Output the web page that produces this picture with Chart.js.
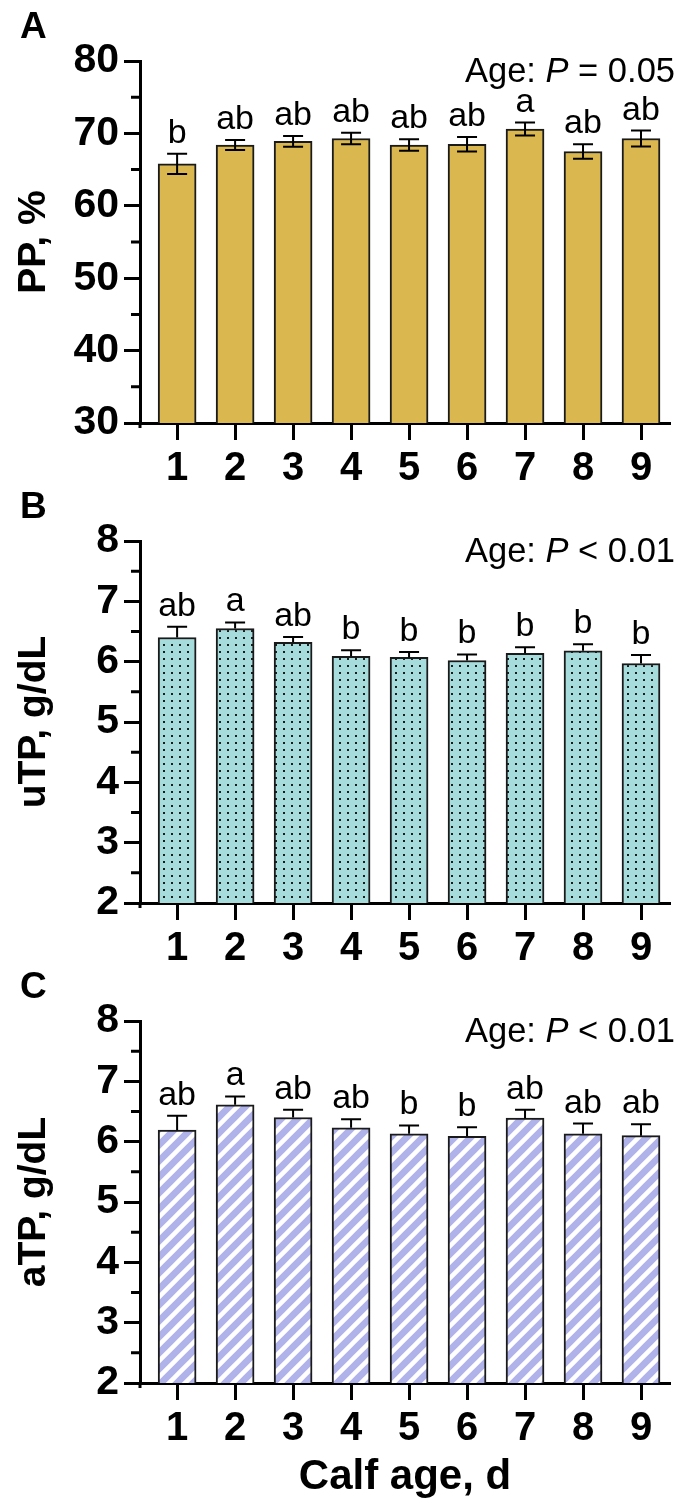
<!DOCTYPE html>
<html>
<head>
<meta charset="utf-8">
<script src="https://cdn.jsdelivr.net/npm/chart.js@4.4.0/dist/chart.umd.min.js"></script>
<style>
  body { margin: 0; background: #fff; }
  .panel { position: absolute; left: 0; }
</style>
</head>
<body>
<canvas id="chartA" class="panel" style="top:0" width="691" height="480"></canvas>
<canvas id="chartB" class="panel" style="top:480px" width="691" height="480"></canvas>
<canvas id="chartC" class="panel" style="top:960px" width="691" height="551"></canvas>
<script>
const FONT = '"Liberation Sans", Arial, sans-serif';

// calf age, d
const categories = [1, 2, 3, 4, 5, 6, 7, 8, 9];

// A: PP, %
const ppMean = [65.8, 68.4, 68.9, 69.3, 68.4, 68.5, 70.6, 67.5, 69.3];
const ppSem = [1.4, 0.7, 0.75, 0.8, 0.8, 1.0, 0.9, 1.0, 1.1];
const ppLetters = ['b', 'ab', 'ab', 'ab', 'ab', 'ab', 'a', 'ab', 'ab'];
const ppTicks = [30, 40, 50, 60, 70, 80];

// B: uTP, g/dL
const utpMean = [6.40, 6.55, 6.32, 6.09, 6.07, 6.02, 6.14, 6.18, 5.97];
const utpSem = [0.18, 0.10, 0.09, 0.10, 0.09, 0.10, 0.10, 0.11, 0.14];
const utpLetters = ['ab', 'a', 'ab', 'b', 'b', 'b', 'b', 'b', 'b'];

// C: aTP, g/dL
const atpMean = [6.19, 6.61, 6.40, 6.23, 6.13, 6.09, 6.39, 6.13, 6.10];
const atpSem = [0.24, 0.14, 0.13, 0.14, 0.14, 0.15, 0.14, 0.17, 0.19];
const atpLetters = ['ab', 'a', 'ab', 'ab', 'b', 'b', 'ab', 'ab', 'ab'];
const tpTicks = [2, 3, 4, 5, 6, 7, 8];

function dotPattern() {
  const c = document.createElement('canvas');
  c.width = 8; c.height = 7;
  const g = c.getContext('2d');
  g.fillStyle = '#a6dcdc';
  g.fillRect(0, 0, 8, 7);
  g.fillStyle = '#1c1c1c';
  g.fillRect(3, 3, 2, 2);
  return g.createPattern(c, 'repeat');
}

function stripePattern() {
  const s = 16;
  const c = document.createElement('canvas');
  c.width = s; c.height = s;
  const g = c.getContext('2d');
  g.fillStyle = '#b0b2ea';
  g.fillRect(0, 0, s, s);
  g.strokeStyle = '#fff';
  g.lineWidth = 4.5;
  g.beginPath();
  g.moveTo(-2, 2); g.lineTo(2, -2);
  g.moveTo(-1, s + 1); g.lineTo(s + 1, -1);
  g.moveTo(s - 2, s + 2); g.lineTo(s + 2, s - 2);
  g.stroke();
  return g.createPattern(c, 'repeat');
}

// error bars, letters, minor ticks and the text in the corner
const overlay = {
  id: 'overlay',
  afterDatasetsDraw(chart, args, o) {
    const ctx = chart.ctx;
    const y = chart.scales.y;
    const meta = chart.getDatasetMeta(0);
    ctx.save();
    ctx.strokeStyle = '#000';
    ctx.lineWidth = 2;
    meta.data.forEach((bar, i) => {
      const top = y.getPixelForValue(o.mean[i] + o.sem[i]);
      const low = o.showLower ? y.getPixelForValue(o.mean[i] - o.sem[i]) : bar.y;
      ctx.beginPath();
      ctx.moveTo(bar.x, low); ctx.lineTo(bar.x, top);
      ctx.moveTo(bar.x - 10, top); ctx.lineTo(bar.x + 10, top);
      if (o.showLower) { ctx.moveTo(bar.x - 10, low); ctx.lineTo(bar.x + 10, low); }
      ctx.stroke();
      ctx.fillStyle = '#000';
      ctx.font = '34px ' + FONT;
      ctx.textAlign = 'center';
      ctx.textBaseline = 'alphabetic';
      ctx.fillText(o.letters[i], bar.x, top - 11);
    });

    // minor ticks halfway between the labelled ones
    ctx.lineWidth = 3;
    ctx.beginPath();
    for (let k = 0; k < o.majors.length - 1; k++) {
      const py = y.getPixelForValue((o.majors[k] + o.majors[k + 1]) / 2);
      ctx.moveTo(y.right - 9, py); ctx.lineTo(y.right, py);
    }
    // the y axis runs a little past the x axis
    ctx.moveTo(y.right, chart.chartArea.bottom); ctx.lineTo(y.right, chart.chartArea.bottom + 5);
    ctx.stroke();

    ctx.textAlign = 'left';
    ctx.font = 'bold 37px ' + FONT;
    ctx.fillText(o.panel, 20, 38);

    const parts = [['Age: ', ''], ['P', 'italic '], [o.note, '']];
    let w = 0;
    parts.forEach(p => { ctx.font = p[1] + '34.5px ' + FONT; w += ctx.measureText(p[0]).width; });
    let x = 675 - w;
    parts.forEach(p => {
      ctx.font = p[1] + '34.5px ' + FONT;
      ctx.fillText(p[0], x, 82);
      x += ctx.measureText(p[0]).width;
    });
    ctx.restore();
  }
};

function makePanel(id, cfg) {
  const canvas = document.getElementById(id);
  const plotTop = 61, plotBottom = 423;
  return new Chart(canvas, {
    type: 'bar',
    data: {
      datasets: [{
        data: categories.map((c, i) => ({ x: c, y: cfg.mean[i] })),
        backgroundColor: cfg.fill,
        borderColor: '#1a1a1a',
        borderWidth: 2,
        barThickness: 38
      }]
    },
    options: {
      responsive: false,
      animation: false,
      layout: { padding: { top: plotTop, right: 21, left: 0, bottom: 0 } },
      plugins: {
        legend: { display: false },
        tooltip: { enabled: false },
        overlay: cfg
      },
      scales: {
        x: {
          type: 'linear',
          min: 0.36,
          max: 9.5,
          offset: false,
          afterBuildTicks: s => { s.ticks = categories.map(v => ({ value: v })); },
          afterFit: s => { s.height = canvas.height - plotBottom; },
          grid: { offset: false, drawOnChartArea: false, tickLength: 17, tickWidth: 3, tickColor: '#000' },
          border: { display: true, color: '#000', width: 3 },
          ticks: { color: '#000', padding: 5, font: { family: FONT, size: 40, weight: 'bold' } },
          title: {
            display: !!cfg.xTitle,
            text: cfg.xTitle || '',
            color: '#000',
            font: { family: FONT, size: 42, weight: 'bold' },
            padding: { top: 0, bottom: 8 }
          }
        },
        y: {
          min: cfg.majors[0],
          max: cfg.majors[cfg.majors.length - 1],
          afterBuildTicks: s => { s.ticks = cfg.majors.map(v => ({ value: v })); },
          afterFit: s => { s.width = 140; },
          grid: { drawOnChartArea: false, tickLength: 16, tickWidth: 3, tickColor: '#000' },
          border: { display: true, color: '#000', width: 3 },
          ticks: { color: '#000', padding: 5, font: { family: FONT, size: 41, weight: 'bold' } },
          title: {
            display: true,
            text: cfg.yTitle,
            color: '#000',
            font: { family: FONT, size: 39, weight: 'bold' },
            padding: { top: 11, bottom: 0 }
          }
        }
      }
    },
    plugins: [overlay]
  });
}

makePanel('chartA', {
  panel: 'A', note: ' = 0.05', yTitle: 'PP, %', majors: ppTicks,
  mean: ppMean, sem: ppSem, letters: ppLetters, fill: '#dab84f', showLower: true
});
makePanel('chartB', {
  panel: 'B', note: ' < 0.01', yTitle: 'uTP, g/dL', majors: tpTicks,
  mean: utpMean, sem: utpSem, letters: utpLetters, fill: dotPattern(), showLower: false
});
makePanel('chartC', {
  panel: 'C', note: ' < 0.01', yTitle: 'aTP, g/dL', majors: tpTicks,
  mean: atpMean, sem: atpSem, letters: atpLetters, fill: stripePattern(), showLower: false,
  xTitle: 'Calf age, d'
});
</script>
</body>
</html>
